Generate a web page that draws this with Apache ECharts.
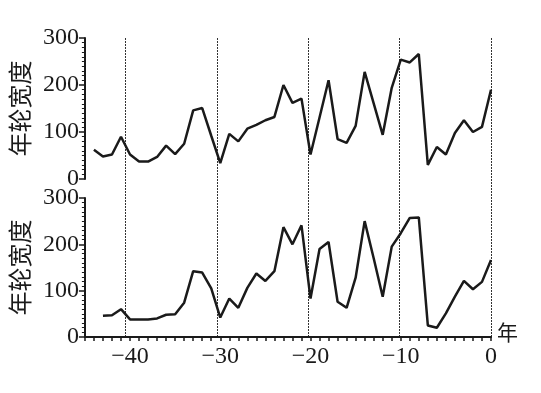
<!DOCTYPE html>
<html lang="zh">
<head>
  <meta charset="UTF-8">
  <title>年轮宽度</title>
  <style>body{margin:0;background:#fff;}</style>
</head>
<body>
<div id="main" style="width: 541px;height:393px;"></div>
<script src="https://cdn.jsdelivr.net/npm/echarts@6/dist/echarts.min.js"></script>
<script>
// 上图：年份与年轮宽度
var yearsTop = [-44, -43, -42, -41, -40, -39, -38, -37, -36, -35, -34, -33, -32, -31, -30,
  -29, -28, -27, -26, -25, -24, -23, -22, -21, -20, -19, -18, -17, -16, -15,
  -14, -13, -12, -11, -10, -9, -8, -7, -6, -5, -4, -3, -2, -1, 0];
var widthTop = [62, 48, 52, 90, 52, 37, 37, 47, 71, 53, 75, 146, 151, 92, 34,
  96, 80, 107, 115, 125, 132, 200, 162, 171, 52, 131, 210, 85, 77, 113,
  228, 161, 94, 194, 254, 248, 266, 30, 68, 52, 98, 125, 100, 111, 190];
// 下图
var yearsBottom = [-43, -42, -41, -40, -39, -38, -37, -36, -35, -34, -33, -32, -31, -30,
  -29, -28, -27, -26, -25, -24, -23, -22, -21, -20, -19, -18, -17, -16, -15,
  -14, -13, -12, -11, -10, -9, -8, -7, -6, -5, -4, -3, -2, -1, 0];
var widthBottom = [46, 47, 60, 38, 38, 38, 40, 48, 49, 74, 142, 139, 105, 42,
  83, 63, 106, 137, 121, 142, 237, 200, 241, 83, 190, 205, 76, 63, 128,
  250, 170, 87, 195, 224, 257, 258, 25, 20, 51, 87, 121, 103, 119, 166];
var yTicks = [0, 100, 200, 300];

function pairs(xs, ys) {
  return xs.map(function (x, i) { return [x, ys[i]]; });
}

var serif = 'Liberation Serif';
var ink = '#1a1a1a';

function yAxisOf(gridIndex) {
  return {
    gridIndex: gridIndex,
    type: 'value',
    min: yTicks[0],
    max: yTicks[yTicks.length - 1],
    interval: 100,
    name: '年轮宽度',
    nameLocation: 'middle',
    nameRotate: 90,
    nameGap: 47,
    nameTextStyle: { fontFamily: 'Noto Sans CJK SC', fontSize: 24, color: ink },
    axisLine: { show: true, onZero: false, lineStyle: { color: ink, width: 2 } },
    axisTick: { show: true, length: 6, lineStyle: { color: ink, width: 1.5 } },
    minorTick: { show: true, splitNumber: 10, length: 3, lineStyle: { color: ink, width: 1 } },
    splitLine: { show: false },
    axisLabel: { fontFamily: serif, fontSize: 24, color: ink, margin: 6 }
  };
}

var myChart = echarts.init(document.getElementById('main'));
myChart.setOption({
  animation: false,
  grid: [
    { left: 79, right: 50, top: 38, height: 141 },
    { left: 79, right: 50, top: 198, bottom: 56 },
    // 竖线所用的覆盖网格（-40 到 0）
    { left: 125.5, right: 50, top: 38, bottom: 56 }
  ],
  xAxis: [
    {
      gridIndex: 0, type: 'value', min: -45, max: 0,
      axisLine: { show: false }, axisTick: { show: false },
      axisLabel: { show: false }, splitLine: { show: false }
    },
    {
      gridIndex: 1, type: 'value', min: -45, max: 0, interval: 5,
      name: '年',
      nameLocation: 'end',
      nameGap: 6,
      nameTextStyle: {
        fontFamily: 'Noto Sans CJK SC', fontSize: 21, color: ink,
        verticalAlign: 'bottom', lineHeight: 10
      },
      axisLine: { show: true, onZero: false, lineStyle: { color: ink, width: 2 } },
      axisTick: { show: true, length: 4, lineStyle: { color: ink, width: 1.5 } },
      minorTick: { show: true, splitNumber: 5, length: 4, lineStyle: { color: ink, width: 1.5 } },
      splitLine: { show: false },
      axisLabel: {
        fontFamily: serif, fontSize: 24, color: ink, margin: 8,
        formatter: function (v) {
          if (v % 10 !== 0) return '';
          return String(v).replace('-', '\u2212');
        }
      }
    },
    {
      gridIndex: 2, type: 'value', min: -40, max: 0, interval: 10,
      axisLine: { show: false }, axisTick: { show: false }, axisLabel: { show: false },
      splitLine: { show: true, lineStyle: { color: '#333', width: 1, type: [2, 1] } }
    }
  ],
  yAxis: [
    yAxisOf(0),
    yAxisOf(1),
    { gridIndex: 2, type: 'value', show: false, min: 0, max: 1 }
  ],
  series: [
    {
      type: 'line', xAxisIndex: 0, yAxisIndex: 0,
      data: pairs(yearsTop, widthTop),
      showSymbol: false, lineStyle: { color: ink, width: 2.5 }
    },
    {
      type: 'line', xAxisIndex: 1, yAxisIndex: 1,
      data: pairs(yearsBottom, widthBottom),
      showSymbol: false, lineStyle: { color: ink, width: 2.5 }
    }
  ]
});
</script>
</body>
</html>
